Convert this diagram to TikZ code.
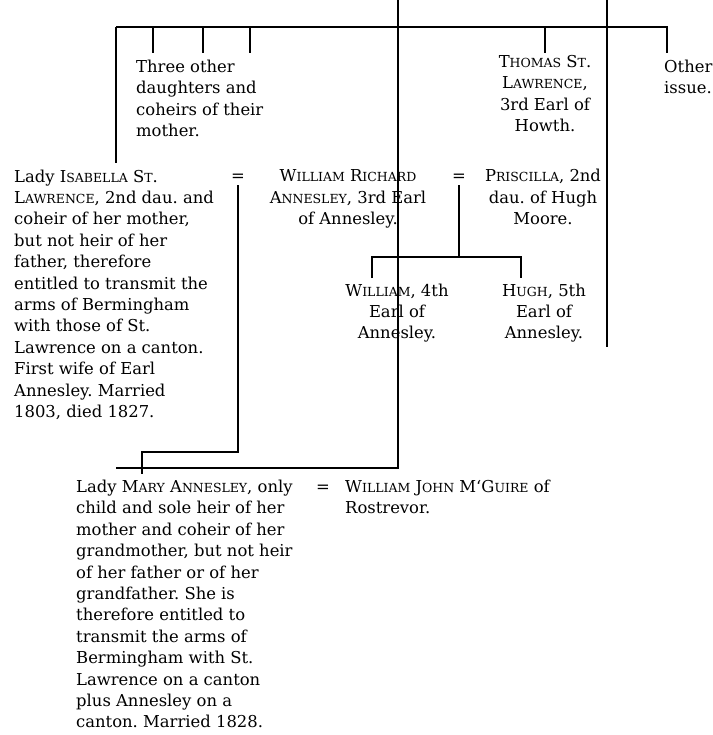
\documentclass[tikz,border=0pt]{standalone}
\usepackage{fontspec}
\setmainfont{DejaVu Serif}
\usetikzlibrary{positioning}
\newcommand{\smc}[1]{{\fontsize{12.5}{21.4}\selectfont #1}}
\frenchspacing

\begin{document}
\begin{tikzpicture}[x=1pt, y=-1pt, every node/.style={font=\fontsize{16.4}{21.4}\selectfont, inner sep=0pt}, leftbox/.style={align=left, anchor=base west}, midbox/.style={align=center, anchor=base}, marr/.style={anchor=base}, line/.style={line width=2pt}]
\useasboundingbox (0,0) rectangle (712,735);
\node[leftbox] (others) at (136,136.7) {Three other\\daughters and\\coheirs of their\\mother.};
\node[midbox] (thomas) at (545,131.5) {T\smc{HOMAS} S\smc{T}.\\L\smc{AWRENCE},\\3rd Earl of\\Howth.};
\node[leftbox] (issue) at (664,93.9) {Other\\issue.};
\node[leftbox] (isabella) at (14,417.4) {Lady I\smc{SABELLA} S\smc{T}.\\L\smc{AWRENCE}, 2nd dau. and\\coheir of her mother,\\but not heir of her\\father, therefore\\entitled to transmit the\\arms of Bermingham\\with those of St.\\Lawrence on a canton.\\First wife of Earl\\Annesley. Married\\1803, died 1827.};
\node[marr] (eq1) at (238,182) {=};
\node[midbox] (william) at (348,224.8) {W\smc{ILLIAM} R\smc{ICHARD}\\A\smc{NNESLEY}, 3rd Earl\\of Annesley.};
\node[marr] (eq2) at (459,182) {=};
\node[midbox] (priscilla) at (543,224.8) {P\smc{RISCILLA}, 2nd\\dau. of Hugh\\Moore.};
\node[midbox] (william4) at (397,338.8) {W\smc{ILLIAM}, 4th\\Earl of\\Annesley.};
\node[midbox] (hugh) at (544,338.8) {H\smc{UGH}, 5th\\Earl of\\Annesley.};
\node[leftbox] (mary) at (76,727.9) {Lady M\smc{ARY} A\smc{NNESLEY}, only\\child and sole heir of her\\mother and coheir of her\\grandmother, but not heir\\of her father or of her\\grandfather. She is\\therefore entitled to\\transmit the arms of\\Bermingham with St.\\Lawrence on a canton\\plus Annesley on a\\canton. Married 1828.};
\node[marr] (eq3) at (323,492.5) {=};
\node[leftbox] (mguire) at (345,513.9) {W\smc{ILLIAM} J\smc{OHN} M‘G\smc{UIRE} of\\Rostrevor.};
\coordinate (bus-l) at (116,27.5);
\coordinate (bus-r) at (667,27.5);
\coordinate (earl-top) at (398,0);
\coordinate (earl-bot) at (398,467.5);
\coordinate (mary-bus) at (116,467.5);
\coordinate (howth-top) at (607,0);
\coordinate (howth-bot) at (607,347);
\coordinate (isa-bot) at (238,451.5);
\coordinate (mary-top) at (141.5,473.5);
\coordinate (sons-bus) at (459,257);
\coordinate (son-l) at (372,278);
\coordinate (son-r) at (521,278);
\draw[line] (bus-l) -- (bus-r) -- ++(0,26);
\draw[line] (bus-l) -- ++(0,136);
\foreach \x in {153,203,250,545} \draw[line] (\x,27.5) -- (\x,53);
\draw[line] (earl-top) -- (earl-bot) -- (mary-bus);
\draw[line] (howth-top) -- (howth-bot);
\draw[line] (eq1.south) ++(0,3) -- (isa-bot) -| (mary-top);
\draw[line] (eq2.south) ++(0,3) -- (sons-bus);
\draw[line] (son-l) |- (sons-bus) -| (son-r);
\end{tikzpicture}
\end{document}
